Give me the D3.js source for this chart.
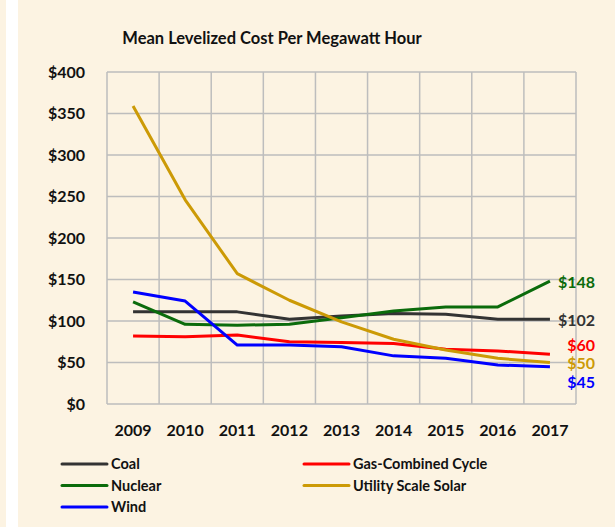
<!DOCTYPE html>
<html>
<head>
<meta charset="utf-8">
<script src="https://cdn.jsdelivr.net/npm/d3@7"></script>
<style>
	html, body { margin: 0; padding: 0; background: #fcf3e2; }
	svg { display: block; }
	text { font-family: Lato, 'Open Sans', sans-serif; font-weight: bold; }
</style>
</head>
<body>
<div id="chart"></div>
<script>
const years = ['2009', '2010', '2011', '2012', '2013', '2014', '2015', '2016', '2017']
const yTicks = [0, 50, 100, 150, 200, 250, 300, 350, 400]

const coal = [111, 111, 111, 102, 106, 109, 108, 102, 102]
const nuclear = [123, 96, 95, 96, 104, 112, 117, 117, 148]
const gas = [82, 81, 83, 75, 74, 73, 66, 64, 60]
const solar = [359, 246, 157, 125, 99, 78, 65, 55, 50]
const wind = [135, 124, 71, 71, 69, 58, 55, 47, 45]

const seriesNames = ['Coal', 'Nuclear', 'Gas-Combined Cycle', 'Utility Scale Solar', 'Wind']
const seriesColors = ['#333333', '#0b6b0b', '#ff0000', '#cc9a06', '#0000ff']

const width = 615
const height = 527
const margin = { top: 72, right: 39, bottom: 123, left: 107 }

const series = [coal, nuclear, gas, solar, wind].map((values, i) => ({
	name: seriesNames[i],
	color: seriesColors[i],
	values: values,
}))

// end labels: nudge so they don't collide
const labelNudge = { Coal: 1, Nuclear: 1, 'Gas-Combined Cycle': -9, 'Utility Scale Solar': 1, Wind: 16 }
// legend slot (column, row) for each series
const legendSlot = { Coal: [0, 0], 'Gas-Combined Cycle': [1, 0], Nuclear: [0, 1], 'Utility Scale Solar': [1, 1], Wind: [0, 2] }

const svg = d3.select('#chart').append('svg').attr('width', width).attr('height', height)

svg.append('rect').attr('x', 6).attr('y', 0).attr('width', 12).attr('height', height).attr('fill', '#ffffff')

const x = d3
	.scaleBand()
	.domain(years)
	.range([margin.left, width - margin.right])
const y = d3
	.scaleLinear()
	.domain([0, 400])
	.range([height - margin.bottom, margin.top])

const grid = svg.append('g')
grid
	.selectAll('line.h')
	.data(yTicks)
	.enter()
	.append('line')
	.attr('x1', margin.left)
	.attr('x2', width - margin.right)
	.attr('y1', (d) => y(d))
	.attr('y2', (d) => y(d))
	.attr('stroke', '#bdbdbd')
	.attr('stroke-width', 1.5)

const xEdges = years.map((d) => x(d)).concat([x(years[years.length - 1]) + x.bandwidth()])
grid
	.selectAll('line.v')
	.data(xEdges)
	.enter()
	.append('line')
	.attr('x1', (d) => d)
	.attr('x2', (d) => d)
	.attr('y1', margin.top)
	.attr('y2', height - margin.bottom)
	.attr('stroke', '#bdbdbd')
	.attr('stroke-width', 1.5)

svg
	.append('g')
	.selectAll('text')
	.data(yTicks)
	.enter()
	.append('text')
	.attr('x', 85)
	.attr('y', (d) => y(d))
	.attr('dy', '0.35em')
	.attr('text-anchor', 'end')
	.attr('font-size', 16)
	.attr('fill', '#111')
	.text((d) => '$' + d)

svg
	.append('g')
	.selectAll('text')
	.data(years)
	.enter()
	.append('text')
	.attr('x', (d) => x(d) + x.bandwidth() / 2)
	.attr('y', 430)
	.attr('dy', '0.35em')
	.attr('text-anchor', 'middle')
	.attr('font-size', 16)
	.attr('fill', '#111')
	.text((d) => d)

const line = d3
	.line()
	.x((d, i) => x(years[i]) + x.bandwidth() / 2)
	.y((d) => y(d))

svg
	.append('g')
	.selectAll('path')
	.data(series)
	.enter()
	.append('path')
	.attr('d', (d) => line(d.values))
	.attr('fill', 'none')
	.attr('stroke', (d) => d.color)
	.attr('stroke-width', 3)
	.attr('stroke-linejoin', 'round')

svg
	.append('g')
	.selectAll('text')
	.data(series)
	.enter()
	.append('text')
	.attr('x', 595)
	.attr('y', (d) => y(d.values[d.values.length - 1]) + labelNudge[d.name])
	.attr('dy', '0.35em')
	.attr('text-anchor', 'end')
	.attr('font-size', 16)
	.attr('fill', (d) => d.color)
	.text((d) => '$' + d.values[d.values.length - 1])

svg
	.append('text')
	.attr('x', 272)
	.attr('y', 38)
	.attr('dy', '0.35em')
	.attr('text-anchor', 'middle')
	.attr('font-size', 16.5)
	.attr('fill', '#111')
	.text('Mean Levelized Cost Per Megawatt Hour')

const legend = svg
	.append('g')
	.selectAll('g')
	.data(series)
	.enter()
	.append('g')
	.attr('transform', (d) => {
		const [c, r] = legendSlot[d.name]
		return 'translate(' + (c ? 304 : 62) + ',' + (464 + r * 21.5) + ')'
	})

legend
	.append('line')
	.attr('x1', 0)
	.attr('x2', 45)
	.attr('stroke', (d) => d.color)
	.attr('stroke-width', 3)
	.attr('stroke-linecap', 'round')

legend
	.append('text')
	.attr('x', 49)
	.attr('dy', '0.35em')
	.attr('font-size', 14.5)
	.attr('fill', '#111')
	.text((d) => d.name)
</script>
</body>
</html>
